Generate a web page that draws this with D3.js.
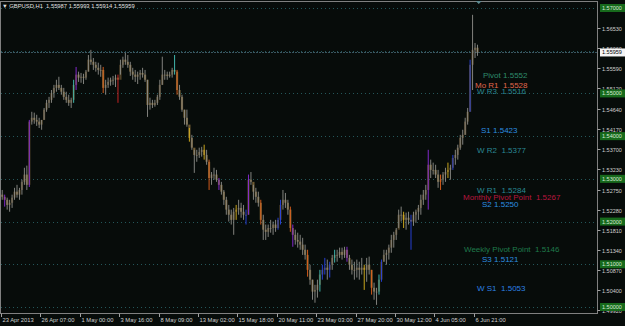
<!DOCTYPE html>
<html>
<head>
<meta charset="utf-8">
<script src="https://cdn.jsdelivr.net/npm/d3@7"></script>
<style>
  html, body { margin: 0; padding: 0; background: #070c0a; }
  svg { display: block; }
  text { font-family: "Liberation Sans", Arial, sans-serif; white-space: pre; }
</style>
</head>
<body>
<div id="chart"></div>
<script>
//////////////////////////////////////////////////////////////
//////////////////////// Data ////////////////////////////////
//////////////////////////////////////////////////////////////

var symbolTitle = "GBPUSD,H1  1.55987 1.55993 1.55914 1.55959";
var lastBid = 1.55959;

//4 hour blocks of H1 bars, starting 23 Apr 2013 00:00
var candleHigh = [1.5274,1.5263,1.5256,1.5251,1.5263,1.5279,1.5286,1.5279,1.5298,1.5326,
  1.5331,1.5438,1.5457,1.5455,1.5450,1.5443,1.5438,1.5466,1.5485,1.5492,
  1.5508,1.5520,1.5532,1.5539,1.5520,1.5513,1.5504,1.5497,1.5490,1.5532,
  1.5562,1.5551,1.5548,1.5546,1.5555,1.5590,1.5602,1.5583,1.5574,1.5572,
  1.5567,1.5562,1.5532,1.5537,1.5537,1.5541,1.5544,1.5544,1.5579,1.5586,
  1.5595,1.5590,1.5574,1.5560,1.5555,1.5551,1.5555,1.5560,1.5555,1.5532,
  1.5490,1.5485,1.5485,1.5497,1.5532,1.5586,1.5555,1.5551,1.5551,1.5560,
  1.5590,1.5555,1.5520,1.5497,1.5462,1.5462,1.5419,1.5403,1.5368,1.5368,
  1.5373,1.5375,1.5380,1.5368,1.5345,1.5316,1.5326,1.5321,1.5302,1.5293,
  1.5274,1.5258,1.5239,1.5228,1.5232,1.5239,1.5251,1.5244,1.5239,1.5228,
  1.5310,1.5316,1.5286,1.5279,1.5270,1.5251,1.5216,1.5193,1.5193,1.5204,
  1.5200,1.5204,1.5209,1.5251,1.5274,1.5267,1.5251,1.5235,1.5193,1.5181,
  1.5174,1.5169,1.5162,1.5146,1.5134,1.5099,1.5064,1.5052,1.5064,1.5087,
  1.5099,1.5115,1.5111,1.5106,1.5122,1.5134,1.5134,1.5139,1.5139,1.5141,
  1.5141,1.5122,1.5111,1.5106,1.5111,1.5106,1.5115,1.5099,1.5115,1.5118,
  1.5087,1.5057,1.5045,1.5076,1.5111,1.5134,1.5134,1.5146,1.5169,1.5176,
  1.5185,1.5228,1.5235,1.5223,1.5221,1.5223,1.5216,1.5223,1.5228,1.5239,
  1.5263,1.5274,1.5286,1.5368,1.5345,1.5338,1.5333,1.5321,1.5310,1.5316,
  1.5326,1.5338,1.5333,1.5356,1.5368,1.5380,1.5403,1.5415,1.5443,1.5466,
  1.5579,1.5684,1.5618,1.5614];

var candleLow = [1.5251,1.5235,1.5228,1.5223,1.5232,1.5251,1.5256,1.5251,1.5263,1.5286,
  1.5274,1.5281,1.5427,1.5429,1.5424,1.5419,1.5415,1.5438,1.5457,1.5466,
  1.5478,1.5490,1.5504,1.5508,1.5497,1.5485,1.5478,1.5471,1.5466,1.5478,
  1.5508,1.5527,1.5525,1.5522,1.5532,1.5551,1.5567,1.5555,1.5551,1.5544,
  1.5539,1.5501,1.5497,1.5513,1.5518,1.5520,1.5515,1.5478,1.5544,1.5560,
  1.5567,1.5560,1.5541,1.5532,1.5527,1.5522,1.5532,1.5537,1.5527,1.5445,
  1.5462,1.5466,1.5469,1.5473,1.5485,1.5520,1.5532,1.5532,1.5537,1.5537,
  1.5544,1.5497,1.5485,1.5457,1.5427,1.5422,1.5387,1.5368,1.5314,1.5340,
  1.5349,1.5352,1.5345,1.5333,1.5274,1.5286,1.5298,1.5293,1.5274,1.5263,
  1.5239,1.5216,1.5200,1.5193,1.5169,1.5204,1.5216,1.5209,1.5204,1.5193,
  1.5216,1.5286,1.5251,1.5244,1.5235,1.5193,1.5157,1.5157,1.5164,1.5174,
  1.5169,1.5176,1.5181,1.5193,1.5228,1.5232,1.5216,1.5176,1.5141,1.5146,
  1.5139,1.5134,1.5122,1.5111,1.5071,1.5052,1.5017,1.5010,1.5022,1.5036,
  1.5064,1.5076,1.5064,1.5069,1.5087,1.5104,1.5106,1.5115,1.5111,1.5115,
  1.5106,1.5087,1.5076,1.5064,1.5069,1.5064,1.5076,1.5040,1.5059,1.5076,
  1.5029,1.5017,1.5005,1.5029,1.5059,1.5106,1.5099,1.5111,1.5127,1.5139,
  1.5157,1.5185,1.5200,1.5185,1.5181,1.5193,1.5134,1.5190,1.5197,1.5204,
  1.5216,1.5239,1.5251,1.5228,1.5302,1.5310,1.5302,1.5279,1.5274,1.5286,
  1.5293,1.5302,1.5298,1.5321,1.5333,1.5345,1.5368,1.5380,1.5403,1.5427,
  1.5457,1.5508,1.5583,1.5588];

var candleClose = [1.5258,1.5251,1.5239,1.5244,1.5256,1.5270,1.5263,1.5274,1.5293,1.5310,
  1.5286,1.5434,1.5443,1.5438,1.5434,1.5427,1.5438,1.5462,1.5478,1.5485,
  1.5501,1.5513,1.5520,1.5513,1.5504,1.5492,1.5485,1.5478,1.5485,1.5520,
  1.5544,1.5537,1.5539,1.5537,1.5551,1.5579,1.5574,1.5567,1.5560,1.5555,
  1.5555,1.5513,1.5520,1.5527,1.5532,1.5532,1.5537,1.5532,1.5567,1.5579,
  1.5574,1.5567,1.5551,1.5544,1.5539,1.5544,1.5548,1.5544,1.5532,1.5473,
  1.5478,1.5473,1.5478,1.5492,1.5520,1.5544,1.5544,1.5541,1.5544,1.5555,
  1.5551,1.5508,1.5492,1.5462,1.5443,1.5427,1.5396,1.5373,1.5356,1.5356,
  1.5363,1.5368,1.5356,1.5340,1.5302,1.5310,1.5310,1.5298,1.5286,1.5270,
  1.5251,1.5228,1.5216,1.5204,1.5223,1.5228,1.5232,1.5223,1.5216,1.5216,
  1.5298,1.5293,1.5270,1.5258,1.5244,1.5204,1.5181,1.5176,1.5185,1.5185,
  1.5193,1.5185,1.5204,1.5239,1.5251,1.5244,1.5228,1.5185,1.5169,1.5157,
  1.5153,1.5146,1.5134,1.5122,1.5087,1.5064,1.5036,1.5040,1.5052,1.5076,
  1.5087,1.5092,1.5087,1.5099,1.5115,1.5122,1.5122,1.5129,1.5122,1.5134,
  1.5115,1.5099,1.5087,1.5087,1.5092,1.5087,1.5092,1.5087,1.5099,1.5087,
  1.5045,1.5036,1.5036,1.5064,1.5106,1.5122,1.5127,1.5139,1.5157,1.5169,
  1.5181,1.5216,1.5216,1.5204,1.5209,1.5204,1.5200,1.5216,1.5223,1.5232,
  1.5251,1.5263,1.5274,1.5333,1.5321,1.5321,1.5310,1.5293,1.5298,1.5310,
  1.5316,1.5321,1.5326,1.5349,1.5356,1.5373,1.5396,1.5403,1.5434,1.5457,
  1.5567,1.5602,1.5607,1.5596];
var firstOpen = 1.5263;

//blocks painted by the colour indicator
var markedBlocks = [1, 11, 29, 30, 41, 47, 70, 71, 76, 82, 84, 88, 95, 99, 100, 105, 112, 113,
  117, 118, 124, 129, 130, 131, 133, 135, 140, 147, 150, 153, 154, 163, 166, 173, 178, 181, 183, 190];
var markedKind = ["purple", "purple", "cyan", "purple", "orange", "red", "cyan", "orange", "yellow", "yellow",
  "orange", "purple", "yellow", "blue", "purple", "orange", "blue", "blue",
  "orange", "purple", "orange", "cyan", "blue", "blue", "blue", "cyan", "purple", "yellow", "orange",
  "cyan", "blue", "yellow", "blue", "purple", "orange", "yellow", "blue", "blue"];

//pivot levels drawn as text objects
var levelNames = ["Pivot", "Mo R1 ", "W R3 ", "S1", "W R2 ", "W R1 ", "Monthly Pivot Point ", "S2",
  "Weekly Pivot Point ", "S3", "W S1 "];
var levelValues = [1.5552, 1.5528, 1.5516, 1.5423, 1.5377, 1.5284, 1.5267, 1.5250, 1.5146, 1.5121, 1.5053];
var levelKind = ["pivot", "monthR", "weekR", "daySup", "weekR", "weekR", "monthP", "daySup", "weekP", "daySup", "weekS"];

//price axis
var priceTicks = [1.56530, 1.56060, 1.55590, 1.55120, 1.54640, 1.54170, 1.53700, 1.53230,
  1.52750, 1.52280, 1.51810, 1.51340, 1.50870, 1.50400, 1.49920];
var roundLevels = [1.57, 1.56, 1.55, 1.54, 1.53, 1.52, 1.51, 1.50];
var roundBoxes = [1.57, 1.55, 1.54, 1.53, 1.52, 1.51, 1.50]; //1.56 sits under the bid box

//time axis, one label every 64 bars
var timeLabels = ["23 Apr 2013", "26 Apr 07:00", "1 May 00:00", "3 May 16:00", "8 May 09:00",
  "13 May 02:00", "15 May 18:00", "20 May 11:00", "23 May 03:00", "27 May 20:00",
  "30 May 12:00", "4 Jun 05:00", "6 Jun 21:00"];

//////////////////////////////////////////////////////////////
//////////////////////// Setup ///////////////////////////////
//////////////////////////////////////////////////////////////

var width = 625, height = 326;
var plotRight = 597, plotBottom = 313;

var colors = {
  purple: "#8f2ce0", cyan: "#46c8c0", orange: "#e8641e", red: "#d82626",
  yellow: "#dcb41e", blue: "#2a46e8",
  pivot: "#2e8b6a", monthR: "#e0684e", weekR: "#2a8894", daySup: "#2c8ee0",
  monthP: "#b8163e", weekP: "#1f7a4a", weekS: "#2c80e4"
};

var svg = d3.select("#chart").append("svg")
  .attr("width", width)
  .attr("height", height);

svg.append("rect").attr("width", width).attr("height", height).attr("fill", "#070c0a");

//bars -> pixels (64 bars per label step)
var x = d3.scaleLinear().domain([0, 64]).range([1, 40.4]);
var y = d3.scaleLinear().domain([1.50, 1.57]).range([307, 8]);

var barsPerBlock = 4;

var candles = candleHigh.map(function(h, i) {
  return {
    i: i,
    high: h,
    low: candleLow[i],
    open: i == 0 ? firstOpen : candleClose[i - 1],
    close: candleClose[i],
    kind: null
  };
});
markedBlocks.forEach(function(b, k) { candles[b].kind = markedKind[k]; });

//////////////////////////////////////////////////////////////
//////////////////////// Grid ////////////////////////////////
//////////////////////////////////////////////////////////////

svg.append("g").selectAll("line")
  .data(roundLevels)
  .enter().append("line")
  .attr("x1", 1).attr("x2", plotRight)
  .attr("y1", function(d) { return Math.round(y(d)) + 0.5; })
  .attr("y2", function(d) { return Math.round(y(d)) + 0.5; })
  .attr("stroke", "#24575a")
  .attr("stroke-dasharray", "1,3");

//bid line
svg.append("line")
  .attr("x1", 1).attr("x2", plotRight)
  .attr("y1", Math.round(y(lastBid)) + 0.5).attr("y2", Math.round(y(lastBid)) + 0.5)
  .attr("stroke", "#3a5660")
  .attr("stroke-dasharray", "2,1");

//////////////////////////////////////////////////////////////
//////////////////////// Candles /////////////////////////////
//////////////////////////////////////////////////////////////

function cx(d) { return x(d.i * barsPerBlock + barsPerBlock / 2); }

var candleG = svg.append("g");

candleG.selectAll(".body")
  .data(candles)
  .enter().append("rect")
  .attr("class", "body")
  .attr("x", function(d) { return cx(d) - 1.1; })
  .attr("width", 2.2)
  .attr("y", function(d) { return y(Math.max(d.open, d.close)); })
  .attr("height", function(d) { return Math.max(1, Math.abs(y(d.open) - y(d.close))); })
  .attr("fill", function(d) { return d.close >= d.open ? "#4e4026" : "#6e5a32"; });

candleG.selectAll(".wick")
  .data(candles)
  .enter().append("line")
  .attr("class", "wick")
  .attr("x1", cx).attr("x2", cx)
  .attr("y1", function(d) { return y(d.high); })
  .attr("y2", function(d) { return y(d.low); })
  .attr("stroke", function(d) { return d.kind ? colors[d.kind] : "#8e8e8a"; })
  .attr("stroke-width", 0.9);

//////////////////////////////////////////////////////////////
//////////////////////// Level labels ////////////////////////
//////////////////////////////////////////////////////////////

//left edge of each text object
var levelX = [483, 475, 477, 481, 477, 477, 463, 482, 464, 482, 477];

svg.append("g").selectAll("text")
  .data(levelValues)
  .enter().append("text")
  .attr("x", function(d, i) { return levelX[i]; })
  .attr("y", function(d) { return y(d) + 7; })
  .attr("font-size", "8px")
  .attr("fill", function(d, i) { return colors[levelKind[i]]; })
  .text(function(d, i) { return levelNames[i] + " " + d.toFixed(4); });

//////////////////////////////////////////////////////////////
//////////////////////// Frame & axes ////////////////////////
//////////////////////////////////////////////////////////////

svg.append("rect")
  .attr("x", 0.5).attr("y", 1.5)
  .attr("width", plotRight).attr("height", plotBottom - 1)
  .attr("fill", "none")
  .attr("stroke", "#808080");

//chart shift marker
svg.append("path")
  .attr("d", "M" + (x(776) - 3) + ",1 L" + (x(776) + 3) + ",1 L" + x(776) + ",4 Z")
  .attr("fill", "#5d8a90");

//title
svg.append("text")
  .attr("x", 2).attr("y", 8)
  .attr("font-size", "5.8px")
  .attr("fill", "#e0e0e0")
  .text("\u25BC " + symbolTitle);

//price axis
var priceAxis = svg.append("g");
priceTicks.forEach(function(p) {
  var py = Math.round(y(p)) + 0.5;
  priceAxis.append("line")
    .attr("x1", plotRight + 0.5).attr("x2", plotRight + 3.5)
    .attr("y1", py).attr("y2", py)
    .attr("stroke", "#a0a0a0");
  priceAxis.append("text")
    .attr("x", 602).attr("y", py + 2)
    .attr("font-size", "5.5px")
    .attr("fill", "#d0d0d0")
    .text(p.toFixed(5));
});

//green boxes for round levels
roundBoxes.forEach(function(p) {
  var py = y(p);
  priceAxis.append("rect")
    .attr("x", 600).attr("y", py - 4)
    .attr("width", 25).attr("height", 8)
    .attr("fill", "#176a1c");
  priceAxis.append("text")
    .attr("x", 602).attr("y", py + 2)
    .attr("font-size", "5.5px")
    .attr("fill", "#d8ecd8")
    .text(p.toFixed(5));
});

//current price box
priceAxis.append("rect")
  .attr("x", 600).attr("y", y(lastBid) - 4)
  .attr("width", 25).attr("height", 8)
  .attr("fill", "#f4f4f4");
priceAxis.append("text")
  .attr("x", 602).attr("y", y(lastBid) + 2)
  .attr("font-size", "5.5px")
  .attr("fill", "#000")
  .text(lastBid.toFixed(5));

//time axis
var timeAxis = svg.append("g");
timeLabels.forEach(function(t, i) {
  var tx = Math.round(x(i * 64)) + 0.5;
  timeAxis.append("line")
    .attr("x1", tx).attr("x2", tx)
    .attr("y1", plotBottom + 0.5).attr("y2", plotBottom + 4)
    .attr("stroke", "#a0a0a0");
  timeAxis.append("text")
    .attr("x", tx + 1).attr("y", 322)
    .attr("font-size", "5.8px")
    .attr("fill", "#d0d0d0")
    .text(t);
});
</script>
</body>
</html>
